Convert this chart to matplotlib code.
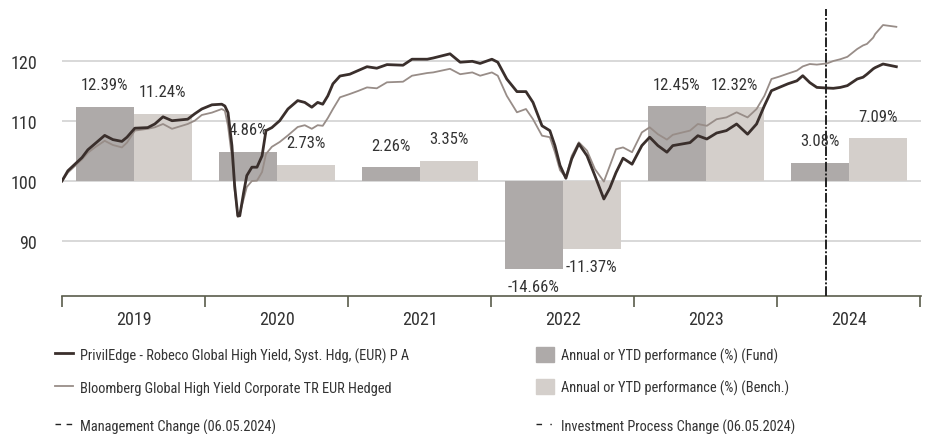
import pandas as pd
import matplotlib.pyplot as plt
from matplotlib import font_manager
from matplotlib.lines import Line2D
from matplotlib.patches import Patch

# a condensed face if one is installed, else Liberation Sans
names = {f.name for f in font_manager.fontManager.ttflist}
wanted = ['Roboto Condensed', 'Liberation Sans Narrow', 'Open Sans Condensed',
          'Noto Sans Condensed', 'DejaVu Sans Condensed']
narrow = [n for n in wanted if n in names]
plt.rcParams['font.family'] = narrow[:1] + ['Liberation Sans', 'DejaVu Sans']

# indexed performance (start = 100)
dates = [
    '2019-01-01', '2019-01-16', '2019-02-03', '2019-02-21', '2019-03-08', '2019-03-26',
    '2019-04-20', '2019-05-11', '2019-06-03', '2019-06-16', '2019-07-06', '2019-08-08',
    '2019-08-26', '2019-09-16', '2019-10-09', '2019-11-18', '2019-12-06', '2019-12-24',
    '2020-01-19', '2020-02-13', '2020-02-21', '2020-02-29', '2020-03-10', '2020-03-17',
    '2020-03-25', '2020-03-30', '2020-04-09', '2020-04-17', '2020-04-30', '2020-05-13',
    '2020-05-26', '2020-06-05', '2020-06-20', '2020-07-10', '2020-07-31', '2020-08-25',
    '2020-09-12', '2020-09-30', '2020-10-15', '2020-10-28', '2020-11-10', '2020-11-23',
    '2020-12-11', '2021-01-05', '2021-01-26', '2021-02-18', '2021-03-15', '2021-04-10',
    '2021-05-21', '2021-06-13', '2021-07-22', '2021-08-06', '2021-09-18', '2021-10-14',
    '2021-11-14', '2021-12-04', '2022-01-03', '2022-01-18', '2022-02-10', '2022-03-08',
    '2022-03-31', '2022-04-18', '2022-05-11', '2022-05-31', '2022-06-13', '2022-06-26',
    '2022-07-11', '2022-07-26', '2022-08-13', '2022-09-03', '2022-09-23', '2022-10-16',
    '2022-10-31', '2022-11-16', '2022-12-04', '2022-12-27', '2023-01-21', '2023-02-10',
    '2023-03-03', '2023-03-26', '2023-04-10', '2023-05-24', '2023-06-13', '2023-07-06',
    '2023-07-31', '2023-08-25', '2023-09-20', '2023-10-18', '2023-11-10', '2023-11-30',
    '2023-12-18', '2024-01-07', '2024-01-29', '2024-02-21', '2024-03-07', '2024-03-25',
    '2024-04-12', '2024-05-08', '2024-05-24', '2024-06-11', '2024-06-29', '2024-07-24',
    '2024-08-08', '2024-08-18', '2024-09-03', '2024-09-08', '2024-09-28', '2024-11-01',
]
fund = [
    100.0, 101.7, 102.8, 103.9, 105.2, 106.2,
    107.6, 106.9, 106.6, 107.3, 108.8, 108.9,
    109.5, 110.7, 110.05, 110.3, 111.2, 112.0,
    112.7, 112.8, 112.5, 111.4, 105.9, 99.2,
    94.2, 94.2, 98.1, 100.9, 102.3, 102.3,
    104.2, 108.4, 108.9, 110.05, 112.0, 113.4,
    113.1, 112.3, 113.1, 112.8, 114.2, 116.2,
    117.5, 117.8, 118.4, 119.05, 118.8, 119.4,
    119.3, 120.3, 120.3, 120.5, 121.2, 119.8,
    119.95, 119.6, 120.3, 119.8, 117.0, 114.9,
    114.9, 113.1, 109.2, 108.4, 105.9, 102.6,
    100.45, 103.7, 106.2, 104.2, 100.9, 97.0,
    98.8, 101.4, 103.8, 102.8, 105.9, 107.3,
    105.9, 104.8, 105.9, 106.4, 107.55, 107.0,
    108.0, 108.4, 109.5, 107.8, 109.5, 112.55,
    115.05, 115.6, 116.2, 116.7, 117.55, 116.4,
    115.6, 115.5, 115.45, 115.6, 115.9, 117.0,
    117.3, 117.8, 118.7, 118.9, 119.5, 119.05,
]
bench = [
    100.0, 101.4, 102.5, 103.6, 104.7, 105.6,
    106.7, 106.0, 105.6, 106.4, 108.4, 108.7,
    108.95, 109.5, 108.7, 109.5, 110.05, 111.0,
    111.4, 112.0, 111.7, 109.2, 104.0, 98.5,
    94.0, 94.5, 97.0, 99.0, 100.0, 100.05,
    101.5, 104.5, 105.7, 106.5, 107.6, 109.0,
    109.3, 108.7, 109.3, 109.2, 110.5, 112.0,
    113.95, 114.5, 115.0, 115.6, 115.45, 116.45,
    116.55, 117.55, 118.0, 118.1, 118.7, 117.8,
    118.1, 117.55, 118.1, 117.55, 114.2, 111.45,
    112.0, 110.3, 107.55, 107.3, 104.8, 101.8,
    100.6, 104.2, 106.45, 105.05, 102.0, 99.9,
    102.5, 105.3, 105.6, 104.8, 108.1, 108.95,
    107.8, 106.9, 107.7, 108.4, 109.5, 109.2,
    110.3, 110.6, 111.45, 110.6, 112.0, 114.2,
    117.0, 117.4, 117.9, 118.4, 119.1, 119.5,
    119.4, 119.6, 120.0, 120.3, 120.7, 122.0,
    122.6, 122.85, 123.9, 124.5, 126.0, 125.7,
]

years = [2019, 2020, 2021, 2022, 2023, 2024]
fund_perf = [12.39, 4.86, 2.26, -14.66, 12.45, 3.08]
bench_perf = [11.24, 2.73, 3.35, -11.37, 12.32, 7.09]
change_date = '2024-05-06'

fund_name = 'PrivilEdge - Robeco Global High Yield, Syst. Hdg, (EUR) P A'
bench_name = 'Bloomberg Global High Yield Corporate TR EUR Hedged'

C_FUND_LINE = '#3a2f2c'
C_BENCH_LINE = '#988d88'
C_FUND_BAR = '#aeaaa9'
C_BENCH_BAR = '#d4cfcb'
C_TEXT = '#333333'

is_narrow = bool(narrow)
FS_TICK = 13 if is_narrow else 11
FS_LAB = 12 if is_narrow else 10
FS_LEG = 10.4 if is_narrow else 9

df = pd.DataFrame({'date': pd.to_datetime(dates), 'fund': fund, 'bench': bench})

fig = plt.figure(figsize=(9.28, 4.35), dpi=100)
ax = fig.add_axes([62 / 928, 1 - 297 / 435, (921 - 62) / 928, (297 - 10) / 435])

# annual bars, drawn from the 100 base line
mid = pd.to_datetime([f'{y}-07-03' for y in years])
off = pd.Timedelta(days=74)
ax.bar(mid - off, fund_perf, width=148, bottom=100, color=C_FUND_BAR, zorder=2)
ax.bar(mid + off, bench_perf, width=148, bottom=100, color=C_BENCH_BAR, zorder=2)

for xs, vals in [(mid - off, fund_perf), (mid + off, bench_perf)]:
    for x, v in zip(xs, vals):
        ax.annotate(f'{v:.2f}%', (x, 100 + v), xytext=(0, 16 if v > 0 else -12.5),
                    textcoords='offset points', ha='center', va='center',
                    fontsize=FS_LAB, color=C_TEXT, zorder=3)

ax.plot(df['date'], df['bench'], color=C_BENCH_LINE, lw=1.3, zorder=4)
ax.plot(df['date'], df['fund'], color=C_FUND_LINE, lw=2.0, zorder=5)

cd = pd.Timestamp(change_date)
ax.axvline(cd, color='#222222', lw=1.4, ls=(0, (5, 3)), zorder=6)
ax.axvline(cd, color='#222222', lw=1.4, ls=(2, (1, 7)), zorder=6)

ax.set_xlim(pd.Timestamp('2019-01-01'), pd.Timestamp('2025-01-03'))
ax.set_ylim(80.83, 128.67)

ax.set_yticks([90, 100, 110, 120])
ax.yaxis.grid(True, color='#d6d6d6', lw=1.3)
ax.set_axisbelow(True)
ax.tick_params(axis='y', length=0, pad=18, labelsize=FS_TICK, labelcolor=C_TEXT)

ax.set_xticks(pd.to_datetime([f'{y}-01-01' for y in years + [2025]]))
ax.set_xticklabels([])
ax.set_xticks(mid, minor=True)
ax.set_xticklabels([str(y) for y in years], minor=True)
ax.tick_params(axis='x', which='major', direction='out', length=8, width=1.2, color='#5a5c4c')
ax.tick_params(axis='x', which='minor', length=0, pad=10, labelsize=FS_TICK, labelcolor=C_TEXT)

for s in ['top', 'right', 'left']:
    ax.spines[s].set_visible(False)
ax.spines['bottom'].set_color('#5a5c4c')
ax.spines['bottom'].set_linewidth(1.2)

# legend, one entry per block
entries = [
    (Line2D([], [], color=C_FUND_LINE, lw=2.0), fund_name, 55, 356),
    (Line2D([], [], color=C_BENCH_LINE, lw=1.3), bench_name, 55, 388),
    (Line2D([], [], color='#222222', lw=1.0, ls=(0, (4, 4))), 'Management Change (06.05.2024)', 55, 427),
    (Patch(color=C_FUND_BAR), 'Annual or YTD performance (%) (Fund)', 536, 356),
    (Patch(color=C_BENCH_BAR), 'Annual or YTD performance (%) (Bench.)', 536, 388),
    (Line2D([], [], color='#222222', lw=1.0, ls=(0, (4, 6, 1, 6))), 'Investment Process Change (06.05.2024)', 536, 427),
]
for h, lab, x, y in entries:
    fig.legend([h], [lab], loc='center left', bbox_to_anchor=(x / 928, 1 - y / 435),
               frameon=False, fontsize=FS_LEG, borderpad=0, borderaxespad=0,
               handlelength=1.15 * 11 / FS_LEG, handleheight=1.15 * 11 / FS_LEG,
               handletextpad=0.5 * 11 / FS_LEG, labelcolor=C_TEXT)

fig.savefig('out.png', dpi=100)
